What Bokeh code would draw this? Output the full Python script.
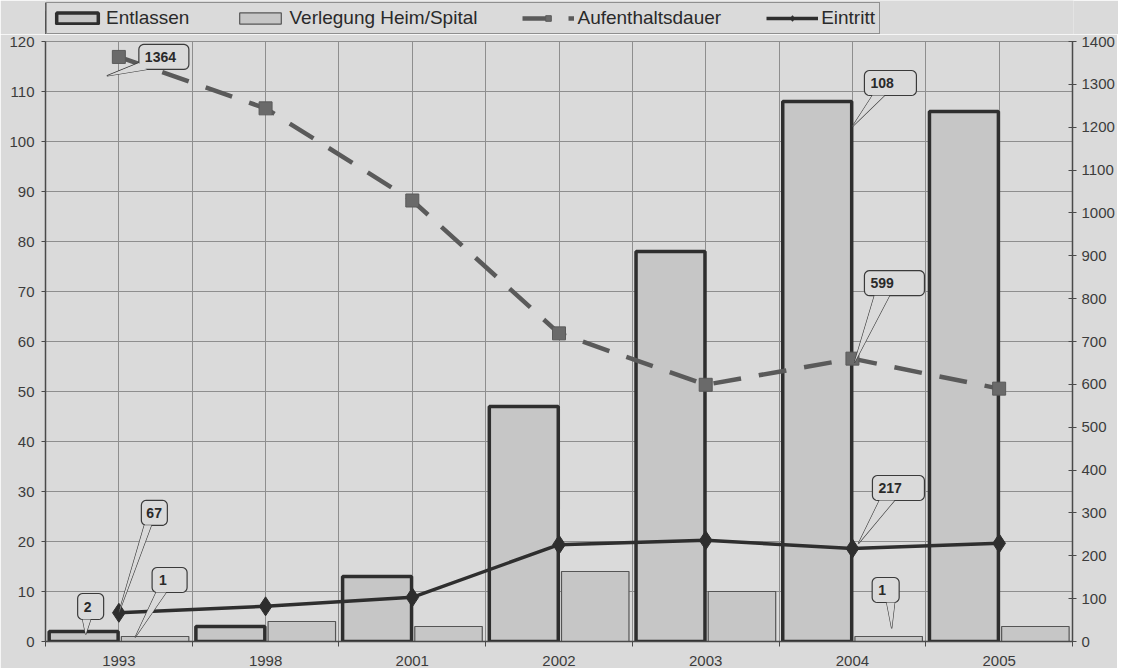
import numpy as np
from bokeh.plotting import figure
from bokeh.layouts import column
from bokeh.models import Range1d, LinearAxis, FixedTicker, Legend, LegendItem
from bokeh.embed import file_html
from bokeh.resources import INLINE
from bokeh.core.properties import value

# ---------------- data ----------------
years = ["1993", "1998", "2001", "2002", "2003", "2004", "2005"]
entlassen = [2, 3, 13, 47, 78, 108, 106]
verlegung = [1, 4, 3, 14, 10, 1, 3]
aufenthaltsdauer = [1364, 1244, 1029, 719, 599, 660, 590]
eintritt = [67, 82, 103, 226, 236, 217, 229]
left_ticks = list(range(0, 121, 10))
right_ticks = list(range(0, 1401, 100))
series_names = ["Entlassen", "Verlegung Heim/Spital", "Aufenthaltsdauer", "Eintritt"]
callout_labels = ["1364", "108", "599", "217", "1", "2", "67", "1"]

# ---------------- layout / style ----------------
BG = "#dadada"
BAR = "#c6c6c6"
DARK = "#2e2e2e"
GRID = "#8e8e8e"
FONT = "Liberation Sans"
FW, FH = 1027, 600
BL, BR = 45, 44
n = len(years)
centers = np.arange(n) + 0.5
YL, YR = left_ticks[-1], right_ticks[-1]
PXX = FW / n
PXY = FH / YL
R2L = YL / YR

STY = {
    "ent": dict(fill_color=BAR, line_color=DARK, line_width=3.5),
    "ver": dict(fill_color=BAR, line_color="#555555", line_width=1.2),
    "auf_l": dict(line_color="#5a5a5a", line_width=4.5, line_dash="28 18"),
    "auf_m": dict(marker="square", size=13, fill_color="#6a6a6a", line_color="#5a5a5a"),
    "ein_l": dict(line_color=DARK, line_width=3.5),
    "ein_m": dict(marker="diamond", size=19, fill_color=DARK, line_color=DARK),
}


def draw_series(fig, right_name=None):
    kw = {} if right_name is None else {"y_range_name": right_name}
    r1 = fig.vbar(x=centers - 0.24, width=0.47, top=entlassen, bottom=0, **STY["ent"])
    r2 = fig.vbar(x=centers + 0.247, width=0.46, top=verlegung, bottom=0, **STY["ver"])
    r3 = fig.line(centers, aufenthaltsdauer, **kw, **STY["auf_l"])
    r4 = fig.scatter(centers, aufenthaltsdauer, **kw, **STY["auf_m"])
    r5 = fig.line(centers, eintritt, **kw, **STY["ein_l"])
    r6 = fig.scatter(centers, eintritt, **kw, **STY["ein_m"])
    return r1, r2, r3, r4, r5, r6


p = figure(frame_width=FW, frame_height=FH,
           x_range=Range1d(0, n), y_range=Range1d(0, YL),
           output_backend="svg", toolbar_location=None,
           min_border_left=BL, min_border_right=BR, min_border_top=7, min_border_bottom=0,
           background_fill_color=BG, border_fill_color=BG)
p.extra_y_ranges = {"right": Range1d(0, YR)}
p.outline_line_color = GRID

# grids
p.xgrid.ticker = FixedTicker(ticks=[k * 0.5 for k in range(1, 2 * n)])
p.ygrid.ticker = FixedTicker(ticks=left_ticks)
for g in (p.xgrid, p.ygrid):
    g.grid_line_color = GRID
    g.grid_line_width = 1

# x axis
xa = p.xaxis[0]
xa.ticker = FixedTicker(ticks=list(centers), minor_ticks=list(range(0, n + 1)))
xa.major_label_overrides = {float(c): y for c, y in zip(centers, years)}
xa.major_tick_out = 0
xa.major_tick_in = 0
xa.minor_tick_out = 5
xa.minor_tick_in = 0
xa.major_label_standoff = 9

# left axis
ya = p.yaxis[0]
ya.ticker = FixedTicker(ticks=left_ticks)
ya.major_tick_out = 4
ya.major_tick_in = 0
ya.minor_tick_out = 0
ya.minor_tick_in = 0
ya.major_label_standoff = 7

# right axis
ra = LinearAxis(y_range_name="right", ticker=FixedTicker(ticks=right_ticks))
ra.major_tick_out = 4
ra.major_tick_in = 4
ra.minor_tick_out = 0
ra.minor_tick_in = 0
ra.major_label_standoff = 5
p.add_layout(ra, "right")

for ax in (xa, ya, ra):
    ax.axis_line_color = "#4a4a4a"
    ax.axis_line_width = 1.5
    ax.major_tick_line_color = "#4a4a4a"
    ax.minor_tick_line_color = "#4a4a4a"
    ax.major_label_text_font = FONT
    ax.major_label_text_font_size = "15px"
    ax.major_label_text_color = "#3c3c3c"

draw_series(p, "right")

# ---------------- callouts ----------------
series = {"ent": (entlassen, 1.0), "ver": (verlegung, 1.0),
          "auf": (aufenthaltsdauer, R2L), "ein": (eintritt, R2L)}
# (series, index, x-shift in category, tip offset px, box centre offset px, box w, box h, text pad, base1, base2)
specs = [
    ("auf", 0, 0.0, (-12, -19), (45, 0), 50, 25, 6, (-25, -6), (-17, -12.5)),
    ("ent", 5, 0.0, (0, -25), (38, 18.5), 52, 25, 6, (-18, -12.5), (-6, -12.5)),
    ("auf", 5, 0.0, (2, -4), (42, 75.5), 60, 25, 6, (-20, -12.5), (-5, -12.5)),
    ("ein", 5, 0.0, (6, 5), (46, 60.5), 52, 25, 6, (-19, -12.5), (-4, -12.5)),
    ("ver", 5, 0.247, (3, 8), (-3, 46.5), 27, 25, 6, (1, -12.5), (9, -12.5)),
    ("ent", 0, -0.24, (2, -3), (7, 25), 26, 26, 6, (-8, -13), (0, -13)),
    ("ein", 0, 0.0, (0, 0), (35.5, 100), 26, 25, 5, (-10, -12.5), (-3, -12.5)),
    ("ver", 0, 0.247, (-20, -1), (14.5, 56.5), 35, 25, 7, (-13.5, -12.5), (-3.5, -12.5)),
]

ptr_xs, ptr_ys, box_xs, box_ys, tx, ty = [], [], [], [], [], []
rad = 5.0
for (s, i, xs_, tip, bc, bw, bh, pad, b1, b2) in specs:
    vals, f = series[s]
    X0 = centers[i] + xs_
    Y0 = vals[i] * f
    cx = X0 + bc[0] / PXX
    cy = Y0 + bc[1] / PXY
    ptr_xs.append([X0 + tip[0] / PXX, cx + b1[0] / PXX, cx + b2[0] / PXX])
    ptr_ys.append([Y0 + tip[1] / PXY, cy + b1[1] / PXY, cy + b2[1] / PXY])
    hx, hy = bw / 2 - rad, bh / 2 - rad
    pts = []
    for (ox, oy, a0) in [(hx, hy, 0), (-hx, hy, 90), (-hx, -hy, 180), (hx, -hy, 270)]:
        for a in np.linspace(a0, a0 + 90, 6):
            pts.append((ox + rad * np.cos(np.radians(a)), oy + rad * np.sin(np.radians(a))))
    box_xs.append([cx + q[0] / PXX for q in pts])
    box_ys.append([cy + q[1] / PXY for q in pts])
    tx.append(cx + (-bw / 2 + pad) / PXX)
    ty.append(cy)

p.patches(ptr_xs, ptr_ys, fill_color=BG, line_color="#3a3a3a", line_width=1.2)
p.patches(box_xs, box_ys, fill_color=BG, line_color="#3a3a3a", line_width=1.2)
p.patches(ptr_xs, ptr_ys, fill_color=BG, line_color=None)
p.text(tx, ty, text=callout_labels, text_font=value(FONT), text_font_style="bold",
       text_font_size="14px", text_color="#2a2a2a", text_align="left", text_baseline="middle")

# ---------------- legend strip (separate figure above the chart) ----------------
# same series drawn into a strip whose x-range lies to the right of all data (only the legend shows)
lg = figure(width=BL + FW + BR + 2, height=34, x_range=Range1d(20, 20 + n),
            y_range=Range1d(0, YL),
            x_axis_type=None, y_axis_type=None, output_backend="svg", toolbar_location=None,
            min_border=0, background_fill_color=BG, border_fill_color=BG)
lg.grid.visible = False
lg.outline_line_color = None
g_ent, g_ver, g_al, g_am, g_el, g_em = draw_series(lg)
legend = Legend(items=[
    LegendItem(label=series_names[0], renderers=[g_ent]),
    LegendItem(label=series_names[1], renderers=[g_ver]),
    LegendItem(label=series_names[2], renderers=[g_al, g_am]),
    LegendItem(label=series_names[3], renderers=[g_el, g_em]),
], orientation="horizontal", location=(1, 0))
legend.label_text_font = FONT
legend.label_text_font_size = "19px"
legend.label_text_color = "#2a2a2a"
legend.glyph_width = 52
legend.glyph_height = 14
legend.label_standoff = 3
legend.spacing = 45
legend.padding = 4
legend.margin = 0
legend.border_line_color = "#444444"
legend.border_line_width = 1.5
legend.background_fill_color = BG
legend.background_fill_alpha = 1
lg.add_layout(legend)

page = column(lg, p, spacing=0)
open("out.html", "w").write(file_html(page, INLINE))
